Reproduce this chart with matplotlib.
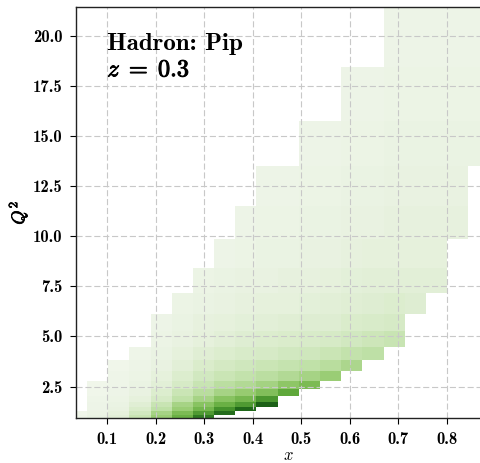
import numpy as np
import matplotlib
matplotlib.use('Agg')
import matplotlib.pyplot as plt
import matplotlib.patheffects as pe
from matplotlib.colors import LinearSegmentedColormap

plt.rcParams['mathtext.fontset'] = 'cm'

# bin edges of the (x, Q^2) histogram
x_edges = [0.014, 0.058, 0.102, 0.145, 0.189, 0.233, 0.276, 0.320, 0.364, 0.407, 0.451,
           0.495, 0.539, 0.582, 0.626, 0.670, 0.713, 0.757, 0.800, 0.844, 0.888]
q2_edges = [0.93, 1.09, 1.27, 1.49, 1.75, 2.04, 2.39, 2.80, 3.27, 3.83, 4.48,
            5.25, 6.14, 7.19, 8.41, 9.84, 11.51, 13.48, 15.77, 18.46, 21.6]

# normalised yield per bin (percent), rows from lowest Q^2 bin upwards, 0 = empty
counts = [
    [6, 9, 14, 26, 42, 58, 82, 0, 0, 0, 0, 0, 0, 0, 0, 0, 0, 0, 0, 0],
    [5, 8, 12, 22, 38, 52, 68, 88, 0, 0, 0, 0, 0, 0, 0, 0, 0, 0, 0, 0],
    [0, 7, 10, 18, 30, 42, 55, 72, 90, 0, 0, 0, 0, 0, 0, 0, 0, 0, 0, 0],
    [0, 7, 9, 15, 26, 38, 48, 58, 68, 93, 0, 0, 0, 0, 0, 0, 0, 0, 0, 0],
    [0, 6, 8, 12, 20, 29, 38, 48, 54, 70, 0, 0, 0, 0, 0, 0, 0, 0, 0, 0],
    [0, 5, 7, 10, 17, 25, 32, 38, 43, 50, 62, 0, 0, 0, 0, 0, 0, 0, 0, 0],
    [0, 5, 6, 9, 14, 20, 26, 31, 34, 39, 46, 52, 0, 0, 0, 0, 0, 0, 0, 0],
    [0, 0, 6, 8, 12, 17, 22, 25, 28, 31, 34, 38, 42, 0, 0, 0, 0, 0, 0, 0],
    [0, 0, 5, 7, 10, 14, 18, 21, 23, 25, 27, 29, 32, 36, 0, 0, 0, 0, 0, 0],
    [0, 0, 0, 6, 9, 12, 15, 17, 19, 20, 22, 23, 25, 28, 30, 0, 0, 0, 0, 0],
    [0, 0, 0, 0, 8, 10, 12, 14, 16, 17, 18, 19, 20, 22, 24, 26, 0, 0, 0, 0],
    [0, 0, 0, 0, 7, 9, 11, 12, 13, 14, 15, 16, 16, 18, 19, 20, 0, 0, 0, 0],
    [0, 0, 0, 0, 0, 8, 9, 10, 11, 12, 12, 13, 14, 15, 16, 17, 16, 0, 0, 0],
    [0, 0, 0, 0, 0, 0, 8, 9, 10, 10, 11, 11, 12, 13, 14, 14, 14, 14, 0, 0],
    [0, 0, 0, 0, 0, 0, 0, 7, 8, 9, 9, 10, 10, 11, 12, 12, 12, 12, 0, 0],
    [0, 0, 0, 0, 0, 0, 0, 0, 7, 8, 8, 9, 9, 10, 10, 11, 11, 11, 11, 0],
    [0, 0, 0, 0, 0, 0, 0, 0, 0, 7, 7, 8, 8, 9, 9, 10, 10, 10, 10, 0],
    [0, 0, 0, 0, 0, 0, 0, 0, 0, 0, 0, 7, 7, 8, 8, 9, 9, 9, 9, 9],
    [0, 0, 0, 0, 0, 0, 0, 0, 0, 0, 0, 0, 0, 7, 7, 8, 8, 8, 8, 8],
    [0, 0, 0, 0, 0, 0, 0, 0, 0, 0, 0, 0, 0, 0, 0, 7, 7, 7, 7, 7],
]

x_ticks = [0.1, 0.2, 0.3, 0.4, 0.5, 0.6, 0.7, 0.8]
q2_ticks = [2.5, 5.0, 7.5, 10.0, 12.5, 15.0, 17.5, 20.0]

greens = LinearSegmentedColormap.from_list('greens', [
    (0.00, (246/255, 249/255, 242/255)),
    (0.10, (233/255, 242/255, 225/255)),
    (0.20, (214/255, 234/255, 198/255)),
    (0.30, (190/255, 224/255, 165/255)),
    (0.45, (145/255, 200/255, 105/255)),
    (0.60, (100/255, 172/255, 62/255)),
    (0.75, (62/255, 140/255, 40/255)),
    (0.90, (32/255, 104/255, 26/255)),
    (1.00, (20/255, 80/255, 18/255)),
])

C = np.ma.masked_equal(np.array(counts, dtype=float), 0) / 100.0

fig = plt.figure(figsize=(4.81, 4.63), dpi=100)
ax = fig.add_axes([0.159, 0.0965, 0.881, 0.8884])

ax.pcolormesh(x_edges, q2_edges, C, cmap=greens, vmin=0, vmax=1)

ax.set_xlim(0.0363, 0.91)
ax.set_ylim(0.92, 21.43)
ax.set_xticks(x_ticks)
ax.set_yticks(q2_ticks)
ax.set_xticklabels([f'{t:.1f}' for t in x_ticks], family='cmb10', fontsize=12)
ax.set_yticklabels([f'{t:.1f}' for t in q2_ticks], family='cmb10', fontsize=12)
ax.tick_params(length=4, width=0.8, pad=6)

ax.grid(True, color='#c8c8c8', lw=0.8, dashes=(5.5, 2.5))
for s in ax.spines.values():
    s.set_linewidth(1.0)
    s.set_color('#222222')

bold = [pe.withStroke(linewidth=0.7, foreground='black')]
ax.set_xlabel(r'$x$', fontsize=12)
ax.set_ylabel(r'$Q^2$', fontsize=13, path_effects=[pe.withStroke(linewidth=0.5, foreground='black')])
ax.xaxis.set_label_coords(0.5, -0.068)
ax.yaxis.set_label_coords(-0.108, 0.5)

ax.text(0.1, 19.3, 'Hadron: Pip', family='cmb10', fontsize=18)
ax.text(0.1, 17.97, r'$z\;=\;0.3$', fontsize=17.5, path_effects=bold)

fig.savefig('out.png', dpi=100)
